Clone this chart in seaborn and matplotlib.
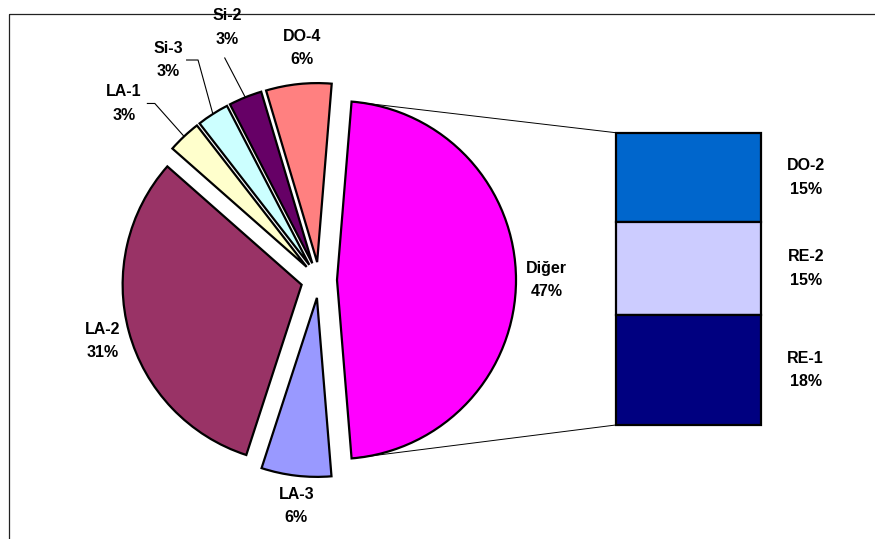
import matplotlib
matplotlib.use("Agg")
import numpy as np
import matplotlib.pyplot as plt
from matplotlib.patches import Rectangle
import seaborn as sns

# ---- data -------------------------------------------------------------
# breakdown of the "Diğer" slice, shown top-to-bottom in the bar
bar_labels = ["DO-2", "RE-2", "RE-1"]
bar_values = [14.5, 15.0, 17.9]

# pie slices, counter-clockwise after "Diğer"
slice_labels = ["DO-4", "Si-2", "Si-3", "LA-1", "LA-2", "LA-3"]
slice_values = [5.9, 3.0, 2.9, 3.0, 31.49, 6.3]

other_label = "Diğer"

pie_labels = [other_label] + slice_labels
pie_values = [sum(bar_values)] + slice_values

pie_colors = sns.color_palette(
    ["#FF00FF", "#FF8080", "#660066", "#CCFFFF", "#FFFFCC", "#993366", "#9999FF"])
bar_colors = sns.color_palette(["#0066CC", "#CCCCFF", "#000080"])

# ---- style ------------------------------------------------------------
sns.set_theme(style="white")
plt.rcParams["font.family"] = ["Liberation Sans", "DejaVu Sans"]
FONT = dict(fontsize=11.5, fontweight="bold", color="black")

W, H = 875, 539
CENTER = (319, 280)     # pie centre (pixel units, y downward)
RADIUS = 179
EXPLODE = 18
BAR_LEFT, BAR_RIGHT = 615.7, 760.7
BAR_TOP, BAR_HEIGHT = 132.7, 292.3
LINE_GAP = 11.7         # half distance between the two label lines

# label placement: (distance in radii, angular shift in degrees ccw)
label_place = {"Diğer": (1.17, 0), "DO-4": (1.20, -2), "Si-2": (1.40, -2.2),
               "Si-3": (1.39, 2), "LA-1": (1.37, 5), "LA-2": (1.155, 0.5),
               "LA-3": (1.17, 1)}
# leader line points relative to label centre (then to the slice edge)
leader_pts = {"Si-2": [(-3, 30)], "Si-3": [(18, 0), (30, 0)],
              "LA-1": [(23, 0), (31, 0)]}

fig = plt.figure(figsize=(W / 100, H / 100), dpi=100)
ax = fig.add_axes([0, 0, 1, 1])

total = sum(pie_values)
half = 360 * pie_values[0] / total / 2
wedges, _ = ax.pie(pie_values, colors=pie_colors, startangle=half,
                   counterclock=False, radius=RADIUS, center=CENTER,
                   explode=[EXPLODE] * len(pie_values),
                   wedgeprops=dict(edgecolor="black", linewidth=1.6,
                                   joinstyle="miter"))
ax.set_xlim(0, W)
ax.set_ylim(H, 0)
ax.set_aspect("equal")
ax.axis("off")


def two_line(x, y, name, value):
    pct = round(100 * value / total)
    ax.text(x, y - LINE_GAP, name, ha="center", va="center", **FONT)
    ax.text(x, y + LINE_GAP, f"{pct}%", ha="center", va="center", **FONT)


for w, name, val in zip(wedges, pie_labels, pie_values):
    cx, cy = w.center
    mid = np.deg2rad((w.theta1 + w.theta2) / 2)
    dist, shift = label_place[name]
    ang = mid - np.deg2rad(shift)
    lx = cx + dist * w.r * np.cos(ang)
    ly = cy + dist * w.r * np.sin(ang)
    two_line(lx, ly, name, val)
    if name in leader_pts:
        xs = [lx + dx for dx, dy in leader_pts[name]] + [cx + w.r * np.cos(mid)]
        ys = [ly + dy for dx, dy in leader_pts[name]] + [cy + w.r * np.sin(mid)]
        ax.plot(xs, ys, color="black", lw=0.8, solid_capstyle="butt")

# stacked bar for the "Diğer" breakdown
scale = BAR_HEIGHT / sum(bar_values)
bottom = BAR_TOP
bar_x = (BAR_LEFT + BAR_RIGHT) / 2
for name, val, col in zip(bar_labels, bar_values, bar_colors):
    h = val * scale
    ax.bar(bar_x, h, width=BAR_RIGHT - BAR_LEFT, bottom=bottom, color=col,
           edgecolor="black", linewidth=1.6)
    two_line(BAR_RIGHT + 45, bottom + h / 2, name, val)
    bottom += h

# connector lines from the "Diğer" slice to the bar
w0 = wedges[0]
corners = []
for t in (w0.theta1, w0.theta2):
    a = np.deg2rad(t)
    corners.append((w0.center[0] + w0.r * np.cos(a), w0.center[1] + w0.r * np.sin(a)))
corners.sort(key=lambda p: p[1])
ax.plot([corners[0][0], BAR_LEFT], [corners[0][1], BAR_TOP], color="black", lw=0.7)
ax.plot([corners[1][0], BAR_LEFT], [corners[1][1], BAR_TOP + BAR_HEIGHT],
        color="black", lw=0.7)

# chart area border
ax.add_patch(Rectangle((9, 14), 2000, 2000, fill=False, edgecolor="#222222",
                       linewidth=0.9))

fig.savefig("out.png", dpi=100)
